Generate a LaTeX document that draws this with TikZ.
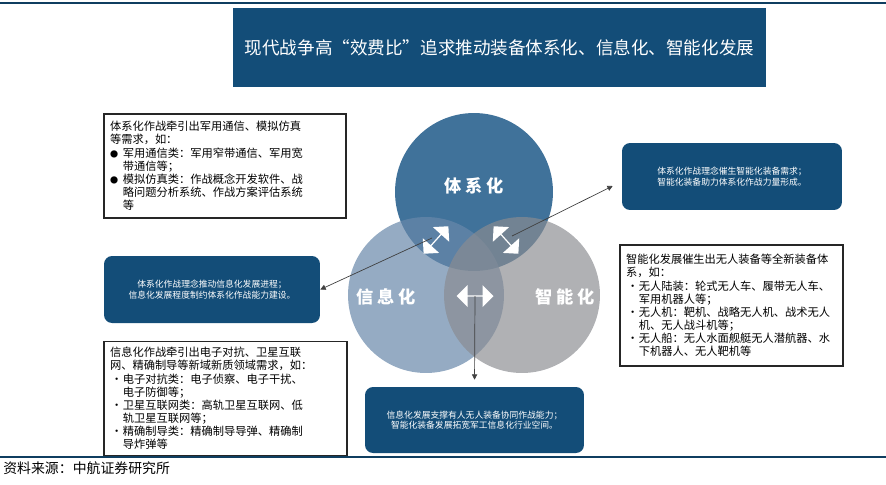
\documentclass[tikz,border=0pt]{standalone}
\usepackage{fontspec}
\usepackage{xcolor}
\usepackage{tikz}
\usetikzlibrary{shapes.arrows, arrows.meta, positioning}
\newfontfamily\cjk{Noto Sans CJK SC}
\definecolor{navy}{HTML}{134D78}
\definecolor{ringtop}{HTML}{40729A}
\definecolor{ringleft}{RGB}{104,136,170}
\definecolor{ringright}{RGB}{138,140,145}
\newcommand{\itm}{\makebox[1.15em][l]{\hspace{0.1em}•}}
\newcommand{\bigitm}{\makebox[1.15em][l]{\fontsize{4.6pt}{4.6pt}\selectfont ●}}
\newcommand{\hang}{\hspace*{1.15em}}
\tikzset{
  textbox/.style={draw=black!85, line width=0.8pt, fill=white, align=left,
    font=\cjk\fontsize{6.4pt}{7.5pt}\selectfont, inner xsep=0.12cm},
  bluebox/.style={fill=navy, rounded corners=0.16cm, text=white, align=center,
    font=\cjk\fontsize{5pt}{6pt}\selectfont},
  link/.style={black!75, line width=0.4pt, -{Triangle[length=3pt,width=3pt]}},
  dblarrow/.style={double arrow, fill=white, minimum height=0.74cm,
    minimum width=0.44cm, double arrow head extend=0.12cm, inner sep=0pt},
  ringlabel/.style={text=white, font=\cjk\bfseries\fontsize{9.8pt}{10pt}\selectfont}
}

\begin{document}
\begin{tikzpicture}[x=0.02cm, y=-0.02cm]
\useasboundingbox (0,0) rectangle (886,484);
% Rules at top and bottom
\draw[navy!80!black, line width=1pt] (0,3) -- (886,3);
\draw[navy!80!black, line width=0.6pt] (0,457) -- (886,457);
% Title
\node[fill=navy, text=white, minimum width=10.66cm, minimum height=1.58cm,
  font=\cjk\fontsize{10pt}{10pt}\selectfont] (title) at (499.5,47.5)
  {现代战争高“效费比”追求推动装备体系化、信息化、智能化发展};
% Three rings
\fill[ringtop] (474,192) circle[radius=1.58cm];
\fill[ringleft, opacity=0.7] (426,295) circle[radius=1.56cm];
\fill[ringright, opacity=0.68] (522,295) circle[radius=1.56cm];
\node[ringlabel] (tixi) at (474,186) {体\hspace{2pt}系\hspace{2pt}化};
\node[ringlabel] (xinxi) at (386,297) {信\hspace{2pt}息\hspace{2pt}化};
\node[ringlabel] (zhineng) at (565,297) {智\hspace{2pt}能\hspace{2pt}化};
% Double arrows in the overlaps
\node[dblarrow, rotate=48] (arrL) at (436,240) {};
\node[dblarrow, rotate=-48] (arrR) at (506,240) {};
\node[dblarrow] (arrB) at (475,296) {};
% Text boxes
\node[textbox, text width=4.6cm, minimum height=2.08cm] (tlbox) at (225,166)
  {体系化作战牵引出军用通信、模拟仿真\\
   等需求，如：\\
   \bigitm 军用通信类：军用窄带通信、军用宽\\
   \hang 带通信等；\\
   \bigitm 模拟仿真类：作战概念开发软件、战\\
   \hang 略问题分析系统、作战方案评估系统\\
   \hang 等};
\node[textbox, text width=4.22cm, minimum height=2.42cm] (rbox) at (731.5,305.5)
  {智能化发展催生出无人装备等全新装备体\\
   系，如：\\
   \itm 无人陆装：轮式无人车、履带无人车、\\
   \hang 军用机器人等；\\
   \itm 无人机：靶机、战略无人机、战术无人\\
   \hang 机、无人战斗机等；\\
   \itm 无人船：无人水面舰艇无人潜航器、水\\
   \hang 下机器人、无人靶机等};
\node[textbox, text width=4.62cm, minimum height=2.18cm] (blbox) at (225.5,398.5)
  {信息化作战牵引出电子对抗、卫星互联\\
   网、精确制导等新域新质领域需求，如：\\
   \itm 电子对抗类：电子侦察、电子干扰、\\
   \hang 电子防御等；\\
   \itm 卫星互联网类：高轨卫星互联网、低\\
   \hang 轨卫星互联网等；\\
   \itm 精确制导类：精确制导导弹、精确制\\
   \hang 导炸弹等};
% Blue boxes
\node[bluebox, minimum width=4.4cm, minimum height=1.34cm] (ubox) at (732,176.5)
  {体系化作战理念催生智能化装备需求；\\智能化装备助力体系化作战力量形成。};
\node[bluebox, minimum width=4.32cm, minimum height=1.34cm] (lbox) at (212,289.5)
  {体系化作战理念推动信息化发展进程；\\信息化发展程度制约体系化作战能力建设。};
\node[bluebox, minimum width=4.38cm, minimum height=1.32cm] (bbox) at (474.5,420)
  {信息化发展支撑有人无人装备协同作战能力；\\智能化装备发展拓宽军工信息化行业空间。};
% Connectors
\coordinate (tlx) at (432,238);
\coordinate (trx) at (512,236);
\draw[link] (tlx) -- (lbox.east);
\draw[link] (trx) -- ([xshift=-0.18cm, yshift=-0.19cm]ubox.west);
\draw[link, shorten >=0.14cm] (arrB.center) -- (bbox.north);
% Source
\node[anchor=west, inner sep=0pt, font=\cjk\fontsize{7.9pt}{8pt}\selectfont] (src)
  at (3,468) {资料来源：中航证券研究所};
\end{tikzpicture}
\end{document}
